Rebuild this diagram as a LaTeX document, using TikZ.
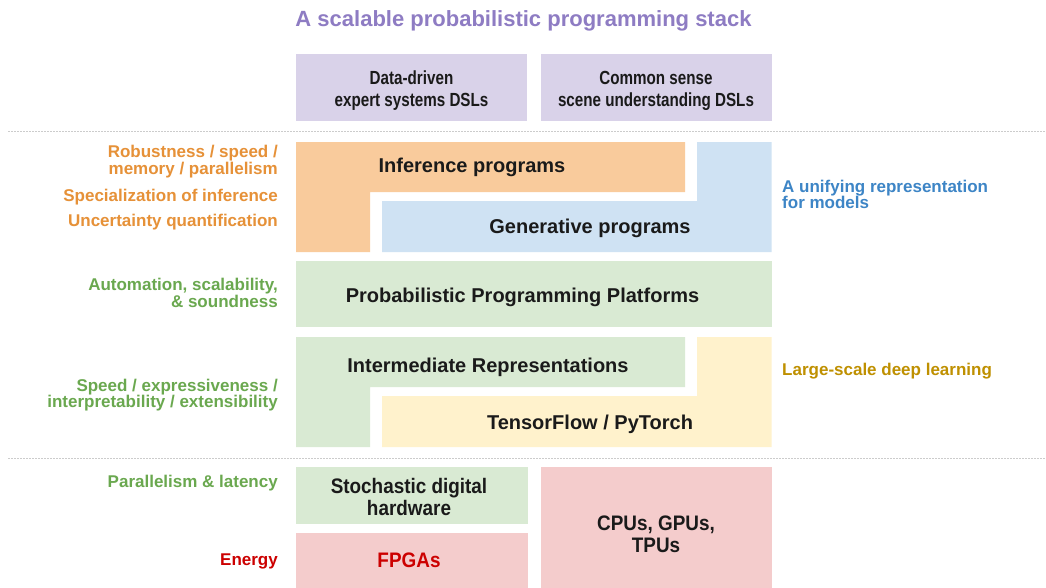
\documentclass[tikz,border=0pt]{standalone}
\usepackage{fontspec}
\setmainfont{Liberation Sans}
\newfontfamily\topfont{Liberation Sans}[FakeStretch=0.8]
\newfontfamily\hwfont{Liberation Sans}[FakeStretch=0.9]
\definecolor{titlepurple}{HTML}{8E7CC3}
\definecolor{dslfill}{HTML}{D9D2E9}
\definecolor{infill}{HTML}{F9CB9C}
\definecolor{intext}{HTML}{E69138}
\definecolor{genfill}{HTML}{CFE2F3}
\definecolor{gentext}{HTML}{3D85C6}
\definecolor{greenfill}{HTML}{D9EAD3}
\definecolor{greentext}{HTML}{6AA84F}
\definecolor{yellowfill}{HTML}{FFF2CC}
\definecolor{yellowtext}{HTML}{BF9000}
\definecolor{pinkfill}{HTML}{F4CCCC}
\definecolor{redtext}{HTML}{CC0000}
\definecolor{boxtext}{HTML}{1A1A1A}
\definecolor{sepline}{HTML}{CCCCCC}
\tikzset{
  sidelab/.style={inner sep=0pt, font=\fontsize{17}{17}\selectfont\bfseries},
  leftlab/.style={sidelab, anchor=base east},
  rightlab/.style={sidelab, anchor=base west},
  layerlab/.style={inner sep=0pt, anchor=base, text=boxtext, font=\fontsize{20}{20}\selectfont\bfseries},
  dsllab/.style={inner sep=0pt, anchor=base, text=boxtext, font=\fontsize{19}{19}\topfont\bfseries},
  hwlab/.style={inner sep=0pt, anchor=base, text=boxtext, font=\fontsize{21}{21}\hwfont\bfseries},
  separator/.style={sepline, line width=1pt, dash pattern=on 1.5pt off 1.5pt},
}
\begin{document}
\begin{tikzpicture}[x=1pt, y=-1pt]
\useasboundingbox (0,0) rectangle (1046,587);
\fill[white] (0,0) rectangle (1046,587);

% title
\node[inner sep=0pt, anchor=base, text=titlepurple,
      font=\fontsize{22}{22}\selectfont\bfseries] (title) at (523.5,26)
  {A scalable probabilistic programming stack};

% domain-specific languages
\fill[dslfill] (296,54) rectangle (527,121);
\fill[dslfill] (541,54) rectangle (771.5,121);
\node[dsllab] (dslA1) at (411.5,84) {Data-driven};
\node[dsllab] (dslA2) at (411.5,106) {expert systems DSLs};
\node[dsllab] (dslB1) at (656,84) {Common sense};
\node[dsllab] (dslB2) at (656,106) {scene understanding DSLs};

\draw[separator] (8,131) -- (1046,131);

% inference / generative programs
\fill[infill] (296,142) -- (685,142) -- (685,192) -- (370,192) -- (370,252) -- (296,252) -- cycle;
\fill[genfill] (697,142) -- (771.5,142) -- (771.5,252) -- (382,252) -- (382,201) -- (697,201) -- cycle;
\node[layerlab] (infer) at (472,172.7) {Inference programs};
\node[layerlab] (gen) at (590,233) {Generative programs};

\node[leftlab, text=intext] (rob1) at (278,157.5) {Robustness / speed /};
\node[leftlab, text=intext] (rob2) at (278,174) {memory / parallelism};
\node[leftlab, text=intext] (spec) at (278,201) {Specialization of inference};
\node[leftlab, text=intext] (unc) at (278,226) {Uncertainty quantification};
\node[rightlab, text=gentext] (uni1) at (782,192) {A unifying representation};
\node[rightlab, text=gentext] (uni2) at (782,208.5) {for models};

% platforms
\fill[greenfill] (296,261) rectangle (771.5,327);
\node[layerlab] (ppp) at (522.5,302) {Probabilistic Programming Platforms};
\node[leftlab, text=greentext] (auto1) at (278,290.5) {Automation, scalability,};
\node[leftlab, text=greentext] (auto2) at (278,307) {\& soundness};

% intermediate representations / tensor libraries
\fill[greenfill] (296,337) -- (685,337) -- (685,387) -- (370,387) -- (370,447) -- (296,447) -- cycle;
\fill[yellowfill] (697,337) -- (771.5,337) -- (771.5,447) -- (382,447) -- (382,396) -- (697,396) -- cycle;
\node[layerlab] (ir) at (488,372) {Intermediate Representations};
\node[layerlab] (tf) at (590,429) {TensorFlow / PyTorch};
\node[leftlab, text=greentext] (spd1) at (278,391) {Speed / expressiveness /};
\node[leftlab, text=greentext] (spd2) at (278,407.5) {interpretability / extensibility};
\node[rightlab, text=yellowtext] (dl) at (782,375.7) {Large-scale deep learning};

\draw[separator] (8,458) -- (1046,458);

% hardware
\fill[greenfill] (296,467) rectangle (528,524);
\fill[pinkfill] (296,533) rectangle (528,590);
\fill[pinkfill] (541,467) rectangle (771.5,590);
\node[hwlab] (sto1) at (409,493) {Stochastic digital};
\node[hwlab] (sto2) at (409,515.5) {hardware};
\node[hwlab, text=redtext] (fpga) at (409,567) {FPGAs};
\node[hwlab] (cpu1) at (656,530) {CPUs, GPUs,};
\node[hwlab] (cpu2) at (656,552) {TPUs};
\node[leftlab, text=greentext] (par) at (278,487) {Parallelism \& latency};
\node[leftlab, text=redtext] (energy) at (278,565) {Energy};
\end{tikzpicture}
\end{document}
